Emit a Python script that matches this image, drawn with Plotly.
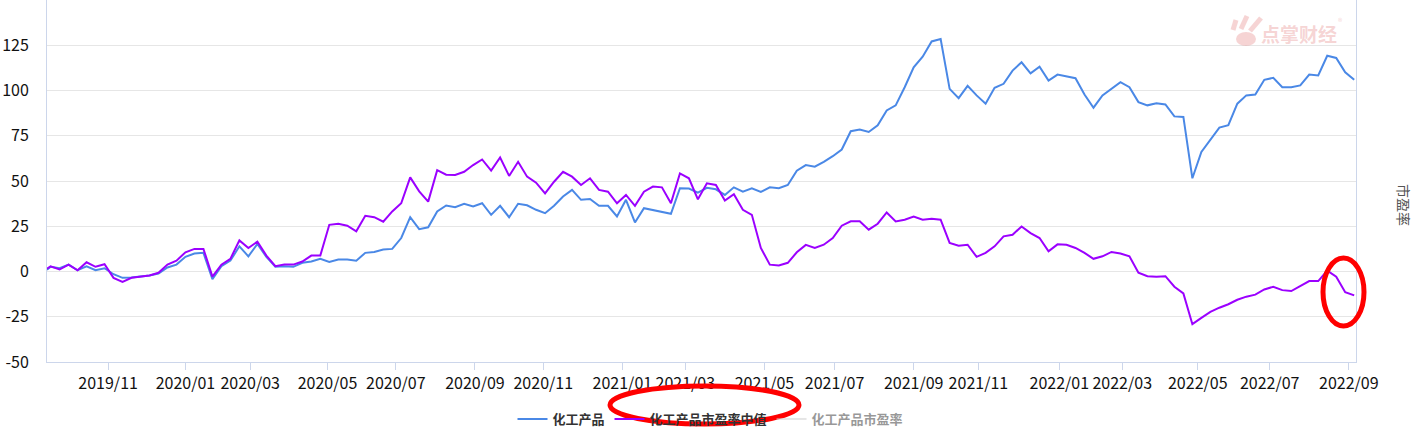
import pandas as pd
import plotly.graph_objects as go

# ---------------- data ----------------
start_date = "2019-09-06"
end_date = "2022-09-07"
# SSE weekday market holidays in the period
holidays = [
    "2019-09-13", "2019-10-01", "2019-10-02", "2019-10-03", "2019-10-04", "2019-10-07",
    "2020-01-01", "2020-01-24", "2020-01-27", "2020-01-28", "2020-01-29", "2020-01-30",
    "2020-01-31", "2020-04-06", "2020-05-01", "2020-05-04", "2020-05-05", "2020-06-25",
    "2020-06-26", "2020-10-01", "2020-10-02", "2020-10-05", "2020-10-06", "2020-10-07",
    "2020-10-08",
    "2021-01-01", "2021-02-11", "2021-02-12", "2021-02-15", "2021-02-16", "2021-02-17",
    "2021-04-05", "2021-05-03", "2021-05-04", "2021-05-05", "2021-06-14", "2021-09-20",
    "2021-09-21", "2021-10-01", "2021-10-04", "2021-10-05", "2021-10-06", "2021-10-07",
    "2022-01-03", "2022-01-31", "2022-02-01", "2022-02-02", "2022-02-03", "2022-02-04",
    "2022-04-04", "2022-04-05", "2022-05-02", "2022-05-03", "2022-05-04", "2022-06-03",
]
sample_offset = 2
sample_step = 5

# 化工产品 (cumulative % change), first trading day then every 5th trading day
product_index = [
    1.0, 2.6, 1.8, 3.8, 0.7, 2.9, 0.7, 1.8, -1.5, -3.5,
    -3.3, -2.9, -2.2, -1.1, 2.2, 3.8, 8.1, 9.9, 10.3, -4.2,
    2.9, 6.0, 13.9, 8.4, 15.2, 8.1, 2.6, 2.9, 2.6, 4.8,
    5.5, 7.0, 5.3, 6.6, 6.6, 6.0, 10.3, 10.8, 12.1, 12.5,
    18.5, 30.0, 23.4, 24.4, 33.2, 36.5, 35.5, 37.4, 35.9, 37.7,
    31.3, 36.3, 30.0, 37.4, 36.6, 34.1, 32.2, 36.3, 41.4, 45.1,
    39.6, 40.1, 36.3, 36.3, 30.4, 39.6, 27.1, 35.0, 34.1, 33.2,
    31.9, 46.0, 45.8, 43.6, 46.2, 45.4, 42.3, 46.5, 44.1, 46.0,
    44.0, 46.5, 46.0, 47.8, 55.7, 58.8, 57.9, 60.6, 63.7, 67.4,
    77.5, 78.4, 77.1, 80.8, 89.0, 91.8, 101.8, 112.8, 118.7, 127.1,
    128.4, 100.9, 95.8, 102.6, 97.3, 92.7, 101.5, 103.7, 111.0, 115.6,
    109.5, 113.2, 105.5, 108.8, 107.7, 106.8, 97.8, 90.5, 97.3, 100.9,
    104.6, 101.8, 93.6, 91.8, 93.0, 92.3, 85.7, 85.4, 51.5, 66.1,
    72.9, 79.5, 80.8, 92.7, 97.3, 97.8, 105.9, 107.0, 101.8, 101.8,
    102.8, 108.8, 108.3, 119.2, 118.0, 110.1, 105.9,
]

# 化工产品市盈率中值 (cumulative % change)
pe_median = [
    1.5, 2.9, 1.1, 3.8, 0.7, 5.1, 2.6, 4.0, -3.5, -5.7,
    -3.5, -2.9, -2.2, -0.7, 3.8, 6.0, 10.6, 12.5, 12.5, -2.8,
    3.8, 7.0, 17.2, 13.0, 16.5, 8.8, 2.9, 3.8, 3.8, 5.5,
    8.8, 8.8, 25.8, 26.4, 25.3, 22.2, 30.8, 30.0, 27.5, 33.2,
    37.7, 52.0, 44.3, 38.6, 56.0, 53.5, 53.3, 55.1, 58.8, 61.9,
    55.7, 63.0, 52.8, 60.6, 52.4, 49.1, 43.2, 49.6, 55.1, 52.4,
    47.8, 51.5, 45.1, 44.1, 37.7, 42.3, 36.3, 44.1, 46.9, 46.5,
    37.7, 54.2, 51.5, 39.9, 48.7, 47.8, 39.2, 42.7, 34.1, 31.3,
    13.0, 3.8, 3.3, 4.8, 10.6, 14.7, 13.0, 14.8, 18.5, 25.3,
    27.7, 27.7, 23.1, 26.4, 32.6, 27.7, 28.6, 30.4, 28.6, 29.1,
    28.6, 15.8, 14.3, 14.8, 8.1, 10.3, 13.9, 19.4, 20.3, 24.9,
    21.2, 18.5, 11.2, 15.0, 14.8, 13.0, 10.3, 7.0, 8.4, 10.8,
    9.9, 8.4, -0.7, -2.6, -2.9, -2.6, -8.4, -12.1, -29.1, -25.6,
    -22.3, -20.0, -18.1, -15.6, -13.9, -12.8, -9.9, -8.4, -10.3, -10.8,
    -8.1, -5.3, -5.3, 0.5, -2.9, -11.4, -13.2,
]

y_tick_values = [-50, -25, 0, 25, 50, 75, 100, 125]
x_tick_months = [
    "2019-11", "2020-01", "2020-03", "2020-05", "2020-07", "2020-09", "2020-11",
    "2021-01", "2021-03", "2021-05", "2021-07", "2021-09", "2021-11",
    "2022-01", "2022-03", "2022-05", "2022-07", "2022-09",
]

# ---------------- derived ----------------
trading_days = pd.bdate_range(start_date, end_date)
trading_days = trading_days[~trading_days.isin(pd.to_datetime(holidays))]
n_days = len(trading_days)
sample_idx = [0] + list(range(sample_offset, n_days, sample_step))
n = min(len(sample_idx), len(product_index), len(pe_median))
sample_idx = sample_idx[:n]

tick_vals = [int(trading_days.searchsorted(pd.Timestamp(m + "-01"))) for m in x_tick_months]
tick_text = [m.replace("-", "/") for m in x_tick_months]

# pixel helpers for decorations (plot area 47..1356 x, 0..362 y)
PL, PR, PT, PB = 47, 1356, 0, 362
def px(x):
    return (x - PL) / (PR - PL)
def py(y):
    return (PB - y) / (PB - PT)

BLUE = "#4a88e6"
PURPLE = "#9b00ff"
AXIS = "#ccd6eb"
WM = "rgba(235,160,160,0.45)"

fig = go.Figure()
fig.add_trace(go.Scatter(x=sample_idx, y=product_index[:n], name="化工产品", mode="lines",
                         line=dict(color=BLUE, width=2)))
fig.add_trace(go.Scatter(x=sample_idx, y=pe_median[:n], name="化工产品市盈率中值", mode="lines",
                         line=dict(color=PURPLE, width=2)))
fig.add_trace(go.Scatter(x=[None], y=[None], name="化工产品市盈率", mode="lines", yaxis="y2",
                         visible="legendonly", line=dict(color="#cccccc", width=2)))

font_family = "Noto Sans CJK SC"
fig.update_layout(
    width=1421, height=427,
    margin=dict(l=PL, r=1421 - PR, t=PT, b=427 - PB),
    paper_bgcolor="white", plot_bgcolor="white",
    font=dict(family=font_family, size=14, color="#222222"),
    showlegend=True,
    xaxis=dict(range=[0, n_days - 1], tickmode="array", tickvals=tick_vals, ticktext=tick_text,
               showgrid=False, zeroline=False, showline=True, linecolor=AXIS, linewidth=1,
               ticks="outside", ticklen=7, tickcolor=AXIS, tickwidth=1,
               tickfont=dict(size=16, color="#111111")),
    yaxis=dict(range=[-50, 150], tickmode="array", tickvals=y_tick_values,
               ticktext=[str(v) for v in y_tick_values],
               showgrid=True, gridcolor="#e6e6e6", gridwidth=1, zeroline=False,
               showline=True, linecolor=AXIS, linewidth=1, mirror=True,
               ticks="", ticklabelstandoff=14, tickfont=dict(size=16, color="#111111")),
    yaxis2=dict(overlaying="y", side="right", showgrid=False, zeroline=False,
                showticklabels=False, showline=False, range=[0, 1]),
    legend=dict(orientation="h", x=0.5, xanchor="center", xref="container",
                y=(427 - 419) / 427, yanchor="middle", yref="container",
                font=dict(size=13, color="#333333", weight="bold"),
                itemwidth=30, bgcolor="rgba(0,0,0,0)"),
)

# right axis title
fig.add_annotation(x=px(1404), y=py(205), xref="paper", yref="paper", text="市盈率",
                   xanchor="center", yanchor="middle",
                   textangle=90, showarrow=False, font=dict(size=14, color="#555555"))

# watermark
fig.add_annotation(x=px(1299), y=py(34), xref="paper", yref="paper", text="<b>点掌财经</b>",
                   xanchor="center", yanchor="middle",
                   showarrow=False, font=dict(size=19, color=WM))
fig.add_annotation(x=px(1340), y=py(21), xref="paper", yref="paper", text="®",
                   xanchor="center", yanchor="middle",
                   showarrow=False, font=dict(size=9, color=WM))
for (x0, y0, x1, y1) in [(1233, 30, 1236, 20), (1241, 29, 1247, 16), (1250, 31, 1261, 18)]:
    fig.add_shape(type="line", xref="paper", yref="paper", x0=px(x0), y0=py(y0), x1=px(x1), y1=py(y1),
                  line=dict(color=WM, width=5))
fig.add_shape(type="circle", xref="paper", yref="paper", x0=px(1236), y0=py(46), x1=px(1256), y1=py(32),
              line=dict(width=0), fillcolor=WM)

# red hand-drawn ellipses
fig.add_shape(type="circle", xref="paper", yref="paper", x0=px(610), x1=px(799), y0=py(386), y1=py(424),
              line=dict(color="#ff0000", width=5))
fig.add_shape(type="circle", xref="paper", yref="paper", x0=px(1323), x1=px(1364), y0=py(258), y1=py(326),
              line=dict(color="#ff0000", width=5))

fig.write_html("out.html")
